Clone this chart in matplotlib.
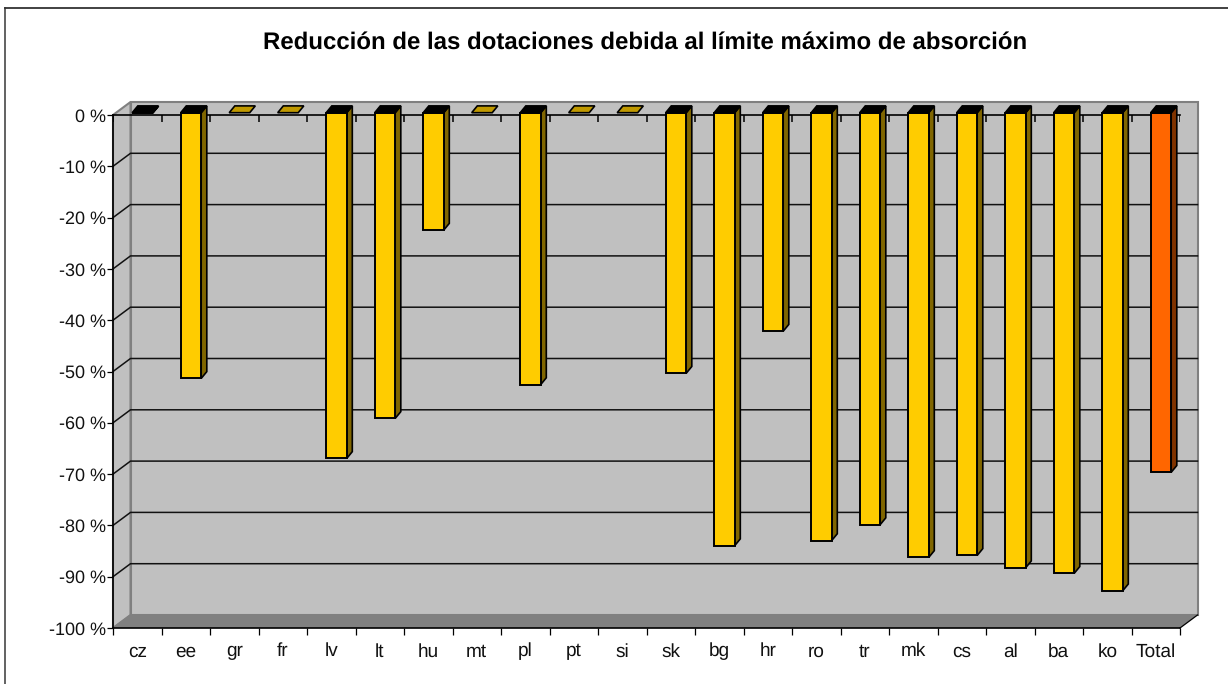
import matplotlib
matplotlib.use("Agg")
import matplotlib.pyplot as plt
from matplotlib.patches import Polygon
from matplotlib.lines import Line2D

plt.rcParams['font.family'] = ['Liberation Sans', 'DejaVu Sans']
plt.rcParams['text.hinting'] = 'no_hinting'
plt.rcParams['text.hinting_factor'] = 1

categories = ['cz', 'ee', 'gr', 'fr', 'lv', 'lt', 'hu', 'mt', 'pl', 'pt', 'si', 'sk',
              'bg', 'hr', 'ro', 'tr', 'mk', 'cs', 'al', 'ba', 'ko', 'Total']
values = [-0.1, -51.8, 0, 0, -67.4, -59.6, -22.9, 0, -53.0, 0, 0, -50.8,
          -84.4, -42.6, -83.4, -80.3, -86.7, -86.3, -88.7, -89.8, -93.2, -70.1]
y_ticks = [0, -10, -20, -30, -40, -50, -60, -70, -80, -90, -100]
y_labels = ['0 %', '-10 %', '-20 %', '-30 %', '-40 %', '-50 %', '-60 %', '-70 %', '-80 %', '-90 %', '-100 %']
title = 'Reducción de las dotaciones debida al límite máximo de absorción'

W, H = 1228, 684
L, R, T, B = 113, 1180, 115, 628
fig = plt.figure(figsize=(W / 100, H / 100), dpi=100, facecolor='white')
fig.add_artist(Line2D([5 / W, 5 / W], [0, 1 - 7.5 / H], transform=fig.transFigure,
                      color='#555555', lw=1.3, solid_capstyle='projecting'))
fig.add_artist(Line2D([5 / W, 1], [1 - 7.5 / H, 1 - 7.5 / H], transform=fig.transFigure,
                      color='#333333', lw=1.3, solid_capstyle='projecting'))
ax = fig.add_axes([L / W, 1 - B / H, (R - L) / W, (B - T) / H])
ax.set_xlim(0, len(categories))
ax.set_ylim(-100, 0)
ax.patch.set_visible(False)

px = len(categories) / (R - L)
py = 100 / (B - T)
dx, dy = 17.5 * px, 13 * py
n = len(categories)


def poly(pts, fc, ec=None, lw=0.0, z=1):
    ax.add_patch(Polygon(pts, closed=True, fc=fc, ec=ec if ec else fc, lw=lw, zorder=z, clip_on=False,
                         joinstyle='miter'))


wall = '#C0C0C0'
edge = '#808080'
poly([(dx, dy), (n + dx, dy), (n + dx, -100 + dy), (dx, -100 + dy)], wall, edge, 1.5)
poly([(0, 0), (dx, dy), (dx, -100 + dy), (0, -100)], wall, edge, 1.5)
poly([(0, -100), (n, -100), (n + dx, -100 + dy), (dx, -100 + dy)], edge)

for v in y_ticks[1:-1]:
    ax.plot([0, dx, n + dx], [v, v + dy, v + dy], color='#111111', lw=1.1, zorder=2, clip_on=False)
ax.plot([0, n], [0, 0], color='black', lw=1.2, zorder=3, clip_on=False)
ax.plot([0, dx], [-100, -100 + dy], color='#808080', lw=1.0, zorder=2, clip_on=False)
ax.plot([n, n + dx], [-100, -100 + dy], color='black', lw=0.9, zorder=3, clip_on=False)
ax.vlines(range(n + 1), -7 * py, 0, color='black', lw=1.1, zorder=3)

off = 5.2 * px
bw = 20.5 * px
front_y = 2.3 * py
bdx, bdy = 5.6 * px, 6.8 * py
for i, v in enumerate(values):
    x0 = i + 0.5 + off - bw / 2
    x1 = x0 + bw
    yt = front_y
    yb = v + front_y
    total = categories[i] == 'Total'
    face = '#FF6600' if total else '#FFCC00'
    side = '#803300' if total else '#806600'
    top = 'black' if v != 0 else '#C09900'
    if v != 0:
        ax.bar(x0 + bw / 2, yb - yt, width=bw, bottom=yt, color=face, ec='black', lw=1.4, zorder=5, clip_on=False)
        poly([(x1, yt), (x1 + bdx, yt + bdy), (x1 + bdx, yb + bdy), (x1, yb)], side, 'black', 1.2, 4)
    poly([(x0, yt), (x1, yt), (x1 + bdx, yt + bdy), (x0 + bdx, yt + bdy)], top, 'black', 1.2, 6)

ax.set_xticks(range(n + 1))
ax.set_xticklabels([])
ax.set_xticks([i + 0.5 for i in range(n)], minor=True)
ax.set_xticklabels(categories, minor=True, fontsize=13.5)
ax.tick_params(axis='x', which='major', length=5, width=0.9, color='black', direction='out')
ax.tick_params(axis='x', which='minor', length=0, pad=10.5, colors='#111111')
ax.set_yticks(y_ticks)
ax.set_yticklabels(y_labels, fontsize=13, color='#111111')
ax.tick_params(axis='y', length=4.5, width=0.9, pad=0.5)
for s in ('top', 'right'):
    ax.spines[s].set_visible(False)
for s in ('left', 'bottom'):
    ax.spines[s].set_linewidth(1.2)
    ax.spines[s].set_zorder(3)

fig.text(645.5 / W, 1 - 43 / H, title, ha='center', va='center', fontsize=17.3, fontweight='bold', color='black')
fig.savefig('out.png', dpi=100)
